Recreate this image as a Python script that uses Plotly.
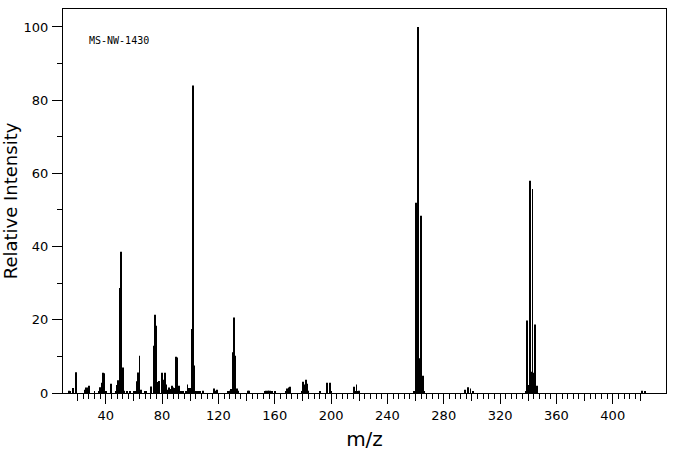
import plotly.graph_objects as go

# m/z values and relative intensities
mz = [14, 15, 17, 19, 25, 26, 27, 28, 32, 35, 36, 37, 38, 39, 40, 44, 47, 48, 49, 50,
      51, 52, 53, 55, 57, 60, 61, 62, 63, 64, 65, 68, 69, 72, 74, 75, 76, 77, 78, 80,
      81, 82, 83, 84, 85, 86, 87, 88, 89, 90, 91, 92, 93, 94, 95, 97, 98, 99, 100, 101,
      102, 103, 104, 105, 106, 107, 109, 117, 118, 119, 127, 128, 129, 130, 131, 132, 133, 134, 141, 142,
      153, 154, 155, 156, 157, 158, 160, 168, 169, 170, 171, 179, 180, 181, 182, 183, 184, 192, 197, 199,
      200, 216, 217, 218, 219, 220, 259, 260, 261, 262, 263, 264, 265, 266, 295, 297, 299, 301, 338, 339,
      340, 341, 342, 343, 344, 345, 346, 421, 423]
intensity = [0.6, 0.4, 1.4, 5.7, 0.9, 1.5, 1.5, 2.0, 0.5, 0.5, 1.6, 2.8, 5.5, 5.4, 0.5, 2.5, 0.5, 2.2, 3.5, 28.7,
             38.6, 7.0, 0.6, 0.5, 0.4, 0.5, 0.5, 3.2, 5.6, 10.2, 0.9, 0.5, 0.5, 1.8, 12.9, 21.4, 18.4, 3.0, 3.3, 5.5,
             3.6, 5.5, 2.3, 0.9, 1.5, 1.1, 2.0, 1.5, 1.4, 9.9, 9.7, 2.0, 0.5, 0.5, 0.5, 0.5, 2.3, 1.4, 1.4, 17.5,
             84.0, 7.5, 0.5, 0.5, 0.5, 0.5, 0.6, 1.2, 0.6, 0.9, 0.4, 0.6, 1.1, 11.1, 20.6, 10.2, 1.2, 0.6, 0.6, 0.6,
             0.5, 0.6, 0.6, 0.6, 0.6, 0.3, 0.3, 0.4, 1.2, 1.5, 1.7, 0.3, 3.1, 2.3, 3.6, 2.5, 0.6, 0.3, 2.8, 2.8,
             0.3, 1.7, 0.3, 2.3, 0.4, 0.6, 0.4, 52.0, 5.3, 100.0, 9.5, 48.4, 4.7, 0.5, 0.9, 1.6, 1.2, 0.4, 0.3, 19.8,
             2.2, 58.0, 5.8, 55.7, 5.5, 18.7, 2.0, 0.6, 0.4]

x_major = list(range(40, 401, 40))
x_mid = list(range(20, 421, 40))
x_minor = [v for v in range(20, 421, 4) if v % 20 != 0]
y_major = list(range(0, 101, 20))
y_minor = list(range(10, 100, 20))
label = "MS-NW-1430"

fig = go.Figure()
fig.add_trace(go.Bar(x=mz, y=intensity, width=0.6,
                     marker=dict(color="black", line=dict(width=0)),
                     showlegend=False, hoverinfo="x+y"))
fig.add_trace(go.Scatter(x=[None], y=[None], xaxis="x2", yaxis="y",
                         showlegend=False, hoverinfo="skip"))

font_main = "DejaVu Sans"
fig.update_layout(
    width=676, height=455,
    margin=dict(l=63, r=10, t=9, b=62),
    paper_bgcolor="white", plot_bgcolor="white",
    font=dict(family=font_main, color="black", size=13),
    xaxis=dict(
        range=[9.66, 437.8], tickmode="array", tickvals=x_major,
        ticktext=[str(v) for v in x_major],
        ticks="outside", ticklen=10, tickwidth=1, tickcolor="black",
        showline=True, linecolor="black", linewidth=1, mirror=True,
        showgrid=False, zeroline=False, automargin=False,
        tickfont=dict(family=font_main, size=13, color="black"),
        minor=dict(tickmode="array", tickvals=x_minor, ticks="outside",
                   ticklen=5, tickwidth=1, tickcolor="black", showgrid=False),
        title=dict(text="m/z", font=dict(family=font_main, size=20, color="black"), standoff=10),
    ),
    xaxis2=dict(
        range=[9.66, 437.8], overlaying="x", anchor="y", side="bottom",
        tickmode="array", tickvals=x_mid, ticks="outside", ticklen=7,
        tickwidth=1, tickcolor="black", showticklabels=False,
        showline=False, showgrid=False, zeroline=False,
    ),
    yaxis=dict(
        range=[0, 104.9], tickmode="array", tickvals=y_major,
        ticktext=[str(v) for v in y_major],
        ticks="outside", ticklen=10, tickwidth=1, tickcolor="black",
        showline=True, linecolor="black", linewidth=1, mirror=True,
        showgrid=False, zeroline=False, automargin=False,
        tickfont=dict(family=font_main, size=13, color="black"),
        ticklabelstandoff=1,
        minor=dict(tickmode="array", tickvals=y_minor, ticks="outside",
                   ticklen=5, tickwidth=1, tickcolor="black", showgrid=False),
        title=dict(text="Relative Intensity", font=dict(family=font_main, size=18, color="black"), standoff=4),
    ),
    annotations=[dict(
        text=label, x=26.7, y=96.2, xref="x", yref="y",
        xanchor="left", yanchor="middle", showarrow=False,
        font=dict(family="DejaVu Sans Mono", size=10, color="black"),
    )],
)

fig.write_html("out.html")
